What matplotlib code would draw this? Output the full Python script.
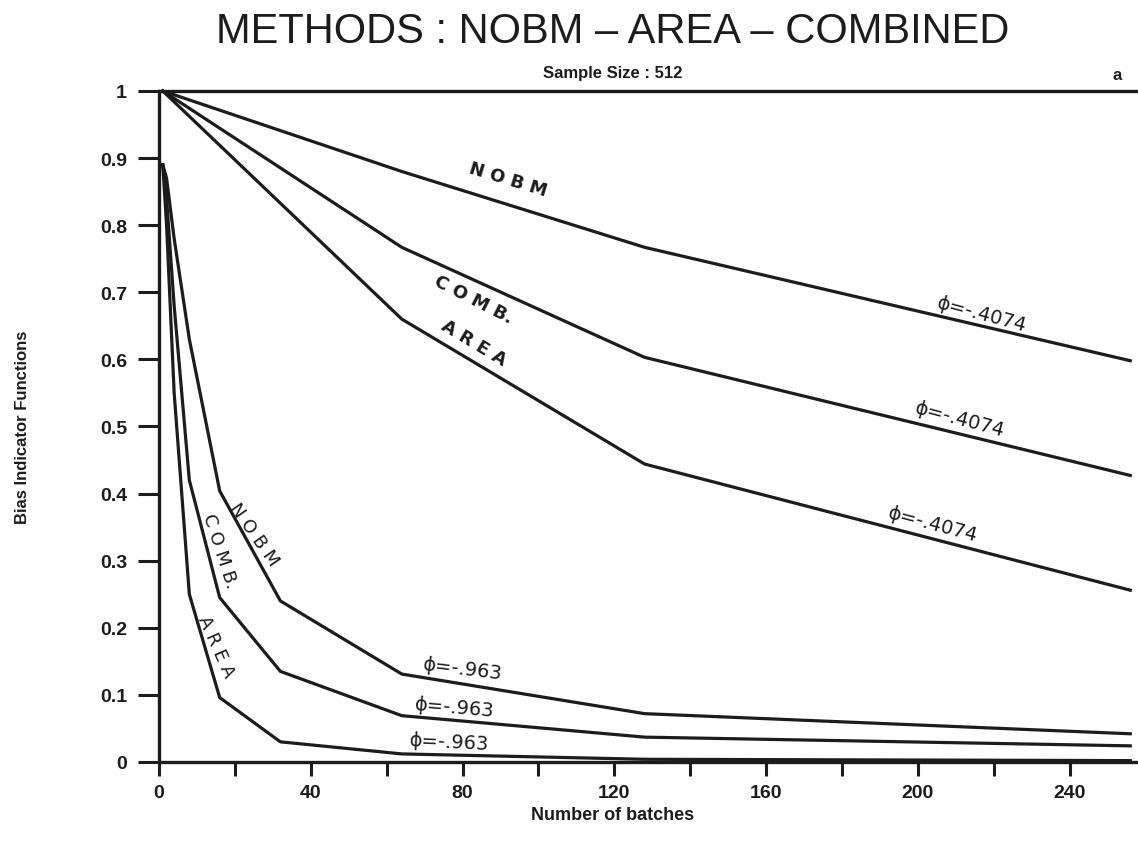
import matplotlib
matplotlib.use("Agg")
import matplotlib.pyplot as plt
from matplotlib.ticker import FixedLocator, FuncFormatter

# Batch counts and bias indicator values, phi = -.4074
x_slow = [1, 64, 128, 256]
nobm_slow = [1.0, 0.880, 0.767, 0.598]
comb_slow = [1.0, 0.767, 0.603, 0.427]
area_slow = [1.0, 0.660, 0.444, 0.256]

# Batch counts and bias indicator values, phi = -.963
x_fast = [1, 2, 4, 8, 16, 32, 64, 128, 256]
nobm_fast = [0.89, 0.87, 0.78, 0.63, 0.404, 0.240, 0.131, 0.072, 0.042]
comb_fast = [0.89, 0.84, 0.68, 0.42, 0.245, 0.135, 0.069, 0.037, 0.024]
area_fast = [0.89, 0.80, 0.55, 0.25, 0.096, 0.030, 0.012, 0.004, 0.002]

x_ticks = [0, 40, 80, 120, 160, 200, 240]
x_minor = [20, 60, 100, 140, 180, 220]
y_ticks = [0, 0.1, 0.2, 0.3, 0.4, 0.5, 0.6, 0.7, 0.8, 0.9, 1.0]

ink = "#1c1c1c"
bold_font = ["Liberation Sans", "DejaVu Sans"]

fig = plt.figure(figsize=(11.38, 8.54), dpi=100)
ax = fig.add_axes([0.1397, 0.1066, 0.8585, 0.7857])

lw = 2.3
for xs, ys in [(x_slow, nobm_slow), (x_slow, comb_slow), (x_slow, area_slow),
               (x_fast, nobm_fast), (x_fast, comb_fast), (x_fast, area_fast)]:
    ax.plot(xs, ys, color=ink, lw=lw, solid_joinstyle="round", clip_on=False)

ax.set_xlim(0, 257.5)
ax.set_ylim(0, 1)

for side in ["left", "bottom", "top"]:
    ax.spines[side].set_linewidth(2.4)
    ax.spines[side].set_color(ink)
ax.spines["right"].set_visible(False)

ax.xaxis.set_major_locator(FixedLocator(x_ticks))
ax.xaxis.set_minor_locator(FixedLocator(x_minor))
ax.yaxis.set_major_locator(FixedLocator(y_ticks))
ax.yaxis.set_major_formatter(FuncFormatter(lambda v, p: "%g" % round(v, 1)))
ax.tick_params(axis="x", which="both", direction="out", length=10, width=2.2,
               color=ink, pad=6, top=False)
ax.tick_params(axis="y", which="major", direction="out", length=15, width=2.2,
               color=ink, pad=8)
for lab in ax.get_xticklabels() + ax.get_yticklabels():
    lab.set_fontfamily(bold_font)
    lab.set_fontweight("bold")
    lab.set_fontsize(14)
    lab.set_color(ink)

ax.set_xlabel("Number of batches", fontsize=13, fontweight="bold",
              family=bold_font, color=ink, va="center")
ax.xaxis.set_label_coords(0.464, -0.078)
ax.set_ylabel("Bias Indicator Functions", fontsize=12, fontweight="bold",
              family=bold_font, color=ink, labelpad=50)

fig.text(0.538, 0.963, "METHODS : NOBM \u2013 AREA \u2013 COMBINED",
         ha="center", va="center", fontsize=30, color=ink,
         family=["Liberation Sans Narrow", "Liberation Sans", "DejaVu Sans"])
fig.text(0.538, 0.914, "Sample Size : 512", ha="center", va="center",
         fontsize=12, fontweight="bold", family=bold_font, color=ink)
fig.text(0.982, 0.912, "a", ha="center", va="center",
         fontsize=12, fontweight="bold", family=bold_font, color=ink)

# curve labels
lab_kw = dict(ha="center", va="center", color=ink, fontsize=13,
              family=["DejaVu Sans"], rotation_mode="anchor")
ax.text(92, 0.869, "N O B M", rotation=-17, fontweight="bold", **lab_kw)
ax.text(83, 0.690, "C O M B.", rotation=-27, fontweight="bold", **lab_kw)
ax.text(83, 0.625, "A R E A", rotation=-31, fontweight="bold", **lab_kw)
ax.text(25, 0.34, "N O B M", rotation=-55, **lab_kw)
ax.text(16, 0.316, "C O M B.", rotation=-72, **lab_kw)
ax.text(15, 0.173, "A R E A", rotation=-66, **lab_kw)

phi_kw = dict(ha="center", va="center", color=ink, fontsize=14,
              family=["DejaVu Sans"], rotation_mode="anchor")
ax.text(217, 0.668, "\u03d5=-.4074", rotation=-15, **phi_kw)
ax.text(211, 0.511, "\u03d5=-.4074", rotation=-15, **phi_kw)
ax.text(204, 0.355, "\u03d5=-.4074", rotation=-15, **phi_kw)
ax.text(80, 0.139, "\u03d5=-.963", rotation=-7, **phi_kw)
ax.text(78, 0.082, "\u03d5=-.963", rotation=-5, **phi_kw)
ax.text(76.5, 0.030, "\u03d5=-.963", rotation=-3, **phi_kw)

fig.savefig("out.png", dpi=100, facecolor="white")
